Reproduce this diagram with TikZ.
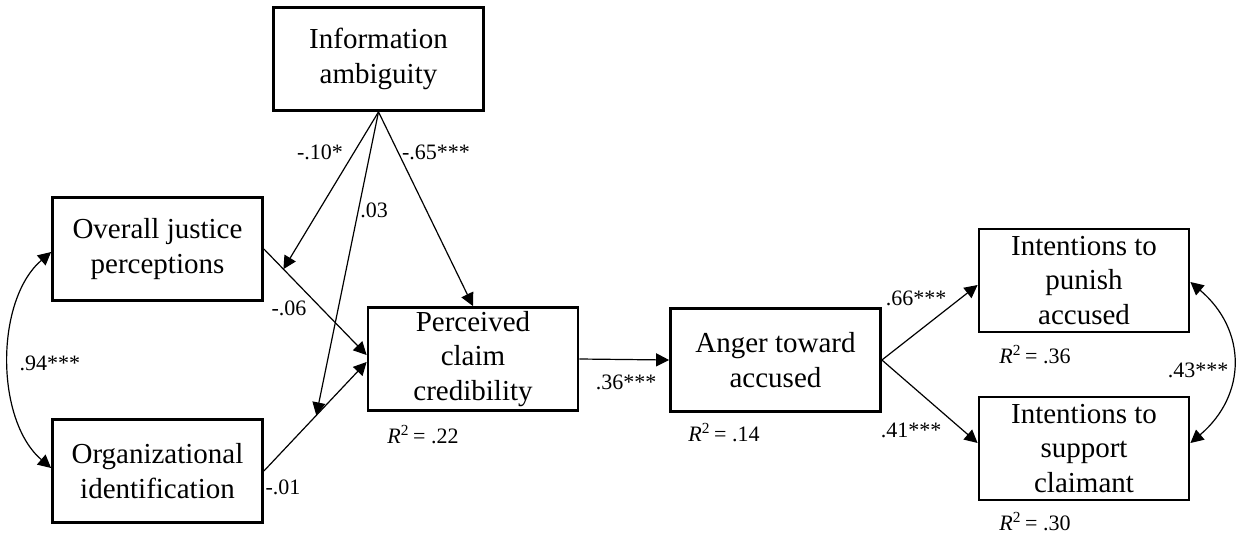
\documentclass[tikz,border=0pt]{standalone}
\usepackage{fontspec}
\setmainfont{Liberation Serif}
\usetikzlibrary{arrows.meta}
\begin{document}
\begin{tikzpicture}[x=0.5pt,y=-0.5pt,
  var/.style={draw,line width=1.4pt,minimum width=105pt,minimum height=51.5pt,
    inner sep=0pt,align=center,font=\fontsize{14.5}{17.3}\selectfont},
  coef/.style={inner sep=0pt,font=\fontsize{11}{13}\selectfont},
  path/.style={line width=0.6pt,-{Triangle[length=6.5pt,width=6.5pt]}},
  corr/.style={line width=0.6pt,{Triangle[length=6.5pt,width=6.5pt]}-{Triangle[length=6.5pt,width=6.5pt]}}]
\useasboundingbox (0,0) rectangle (1238,536);

% variables
\node[var] (info) at (378.5,59) {Information\\ambiguity};
\node[var] (oj) at (157.5,249) {Overall justice\\perceptions};
\node[var] (org) at (157.5,471) {Organizational\\identification};
\node[var] (perc) at (473,359) {Perceived\\claim\\credibility};
\node[var] (anger) at (775.5,360) {Anger toward\\accused};
\node[var] (pun) at (1084,280.5) {Intentions to\\punish\\accused};
\node[var] (sup) at (1084,448.5) {Intentions to\\support\\claimant};

% direct paths
\draw[path] (oj.east) -- coordinate[pos=0.19] (mj) ([yshift=2pt]perc.west);
\draw[path] (org.east) -- coordinate[pos=0.51] (mo) ([yshift=-1.5pt]perc.west);
\draw[path] (info.south) -- (perc.north);
\draw[path] (perc.east) -- (anger.west);
\draw[path] (anger.east) -- ([yshift=-2.25pt]pun.west);
\draw[path] (anger.east) -- ([yshift=2.75pt]sup.west);

% moderation paths
\draw[path] (info.south) -- (mj);
\draw[path] (info.south) -- (mo);

% correlations
\draw[corr] ([yshift=-1.5pt]oj.west) .. controls (-5,300) and (-5,420) .. ([yshift=1.5pt]org.west);
\draw[corr] ([yshift=-0.75pt]pun.east) .. controls (1247,330) and (1247,395) .. ([yshift=2.75pt]sup.east);

% coefficients
\node[coef] (c1) at (320,152) {-.10*};
\node[coef] (c2) at (436,152) {-.65***};
\node[coef] (c3) at (374,210) {.03};
\node[coef] (c4) at (289,308) {-.06};
\node[coef] (c5) at (283,487) {-.01};
\node[coef] (c6) at (50,363) {.94***};
\node[coef] (c7) at (626,382) {.36***};
\node[coef] (c8) at (916,298) {.66***};
\node[coef] (c9) at (911,430) {.41***};
\node[coef] (c10) at (1198,370) {.43***};

% explained variance
\node[coef,anchor=west] (r1) at (387,435) {\textit{R}\textsuperscript{2}\,= .22};
\node[coef,anchor=west] (r2) at (688,433) {\textit{R}\textsuperscript{2}\,= .14};
\node[coef,anchor=west] (r3) at (999,355) {\textit{R}\textsuperscript{2}\,= .36};
\node[coef,anchor=west] (r4) at (999,522) {\textit{R}\textsuperscript{2}\,= .30};
\end{tikzpicture}
\end{document}
